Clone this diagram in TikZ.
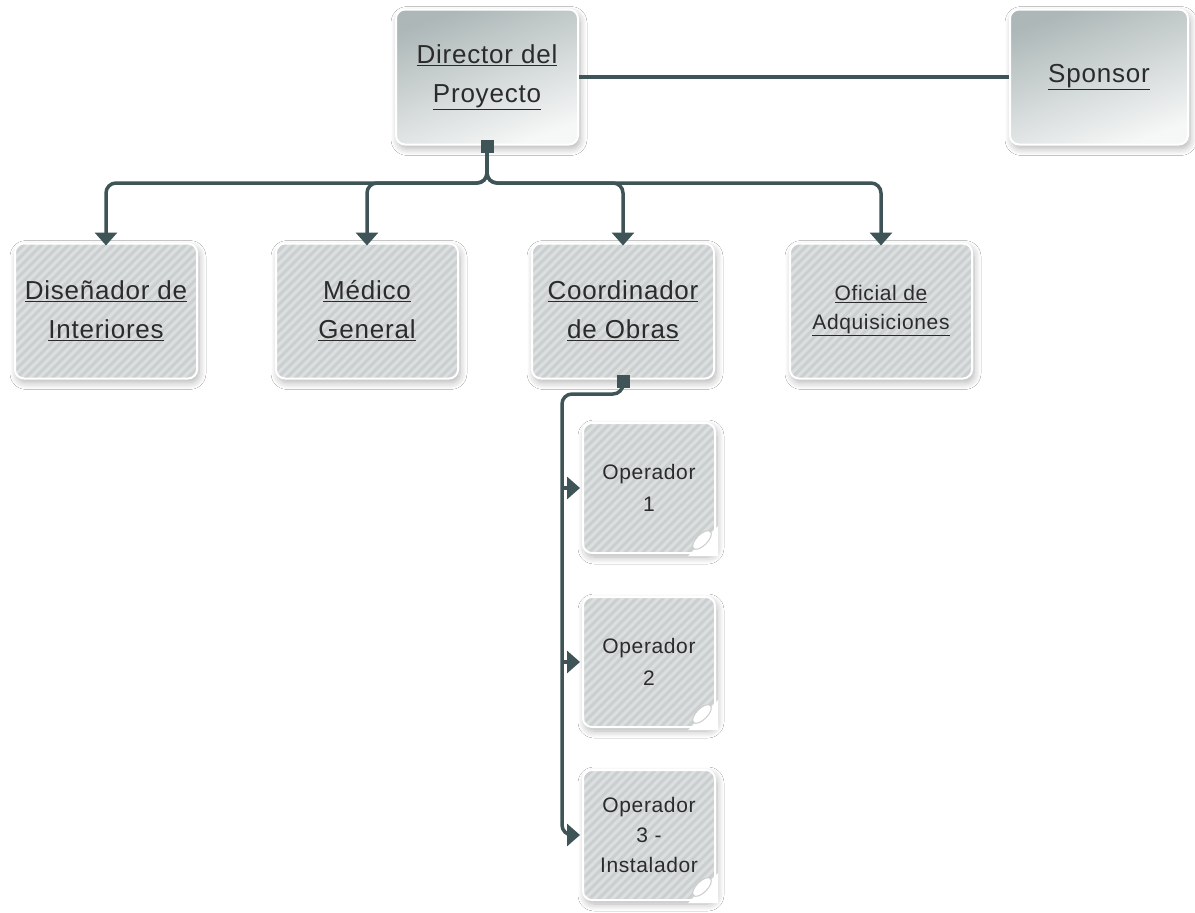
\documentclass[tikz,border=0pt]{standalone}
\usepackage{fontspec}
\setmainfont{Liberation Sans}
\newfontfamily\labelfont{Liberation Sans}[LetterSpace=3]
\usetikzlibrary{shadows.blur,arrows.meta,calc}
\definecolor{conn}{HTML}{3E5457}
\definecolor{boxbase}{HTML}{CBCFCF}
\definecolor{stripe}{HTML}{DCDFDF}
\definecolor{gradtop}{HTML}{ADB7B7}
\definecolor{gradbot}{HTML}{F6F7F7}
\definecolor{txt}{HTML}{2B2B2B}
\tikzset{
  boxshadow/.style={blur shadow={shadow xshift=2pt,shadow yshift=-4pt,shadow blur steps=8,shadow blur radius=7pt,shadow opacity=30}},
  headbox/.style={draw=white,line width=2pt,rounded corners=9pt,boxshadow,
    top color=gradtop,bottom color=gradbot,shading angle=20,
    minimum width=182pt,minimum height=135pt,align=center,text=txt,
    font=\labelfont\fontsize{26}{39}\selectfont},
  stripes/.style={path picture={
    \foreach \i in {-24,...,24}{
      \draw[stripe,line width=3pt] ([xshift=\i*9pt-100pt,yshift=-100pt]path picture bounding box.center) -- ++(200pt,200pt);
    }}},
  rolebox/.style={draw=white,line width=2pt,rounded corners=9pt,boxshadow,
    fill=boxbase,stripes,
    minimum width=182pt,minimum height=135pt,align=center,text=txt,
    font=\labelfont\fontsize{26}{39}\selectfont},
  opbox/.style={rolebox,minimum width=132pt,minimum height=130pt,
    font=\labelfont\fontsize{21}{32}\selectfont},
  link/.style={draw=conn,line width=3.5pt,rounded corners=10pt},
  arr/.style={link,-{Triangle[width=22pt,length=13pt]}},
  sqmark/.style={fill=conn,minimum size=13pt,inner sep=0pt},
  curl/.style={fill=white,draw=gray!40,line width=1pt}
}
\begin{document}
\begin{tikzpicture}[x=1pt,y=-1pt]
\useasboundingbox (0,0) rectangle (1195,913);
\fill[white] (0,0) rectangle (1195,913);

% top level
\node[headbox] (dir) at (487,77) {\underline{Director del}\\\underline{Proyecto}};
\node[headbox,minimum width=178pt] (spon) at (1099,77) {\underline{Sponsor}};

% second level
\node[rolebox] (dis) at (106,311) {\underline{Diseñador de}\\\underline{Interiores}};
\node[rolebox] (med) at (367,311) {\underline{Médico}\\\underline{General}};
\node[rolebox] (coo) at (623,311) {\underline{Coordinador}\\\underline{de Obras}};
\node[rolebox,font=\labelfont\fontsize{21}{29}\selectfont] (ofi) at (881,311) {\underline{Oficial de}\\\underline{Adquisiciones}};

% operators
\node[opbox] (op1) at (649,488) {Operador\\1};
\node[opbox] (op2) at (649,662) {Operador\\2};
\node[opbox,font=\labelfont\fontsize{21}{30}\selectfont] (op3) at (649,835) {Operador\\3 -\\Instalador};

% folded corners of the operator sheets
\foreach \o in {op1,op2,op3}{
  \fill[white] ($(\o.south east)+(-28pt,-2pt)$) -- ($(\o.south east)+(2pt,-2pt)$) -- ($(\o.south east)+(2pt,28pt)$) -- cycle;
  \coordinate (cc) at ($(\o.south east)+(-14pt,14pt)$);
  \draw[curl,rotate around={45:(cc)}] (cc) ellipse (12pt and 5.5pt);
}

% connector markers
\node[sqmark] (dsq) at (487,146) {};
\node[sqmark] (csq) at (623,381) {};

% director to sponsor
\draw[link] (dir.east) -- (spon.west);

% director to second level
\coordinate (bus) at (487,183);
\foreach \c in {dis,med,coo,ofi}{
  \draw[arr] (dsq.center) -- (bus) -| ([yshift=-3pt]\c.north);
}

% coordinator to operators
\coordinate (turn) at (623,394);
\coordinate (j1) at (562,488);
\coordinate (j2) at (562,662);
\coordinate (j3) at (562,835);
\draw[arr] (csq.center) -- (turn) -| (j1) -- (j2) -- (j3) -- ([xshift=-2pt]op3.west);
\draw[arr] (j1) -- ([xshift=-2pt]op1.west);
\draw[arr] (j2) -- ([xshift=-2pt]op2.west);
\end{tikzpicture}
\end{document}
